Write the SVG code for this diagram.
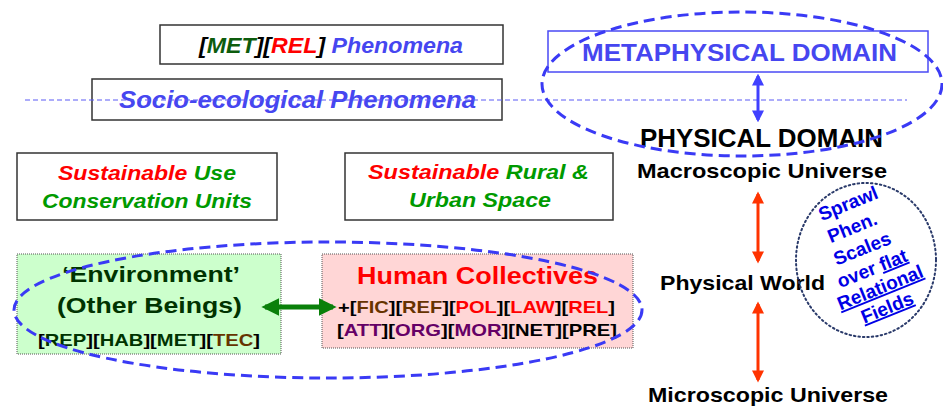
<svg xmlns="http://www.w3.org/2000/svg" width="943" height="413" viewBox="0 0 943 413">
<defs>
<style>
.t{font-family:"Liberation Sans",Arial,sans-serif;font-weight:bold}
.i{font-style:italic}
.box{fill:#fff;stroke:#333;stroke-width:1.5}
.dash{fill:none;stroke:#3a3af5;stroke-width:3;stroke-dasharray:11 6}
.blue{fill:#4646f0}
.red{fill:#ff0000}
.grn{fill:#009a00}
.dg{fill:#0d5c0d}
.br{fill:#663300}
.pu{fill:#660066}
.k{fill:#000}
.env{fill:#003300}
.sp{font-family:"Liberation Sans",Arial,sans-serif;font-weight:bold;font-size:19px;fill:#0000e6;text-anchor:middle}
</style>
<marker id="ab" viewBox="0 0 10 10" refX="8" refY="5" markerWidth="4" markerHeight="4" orient="auto-start-reverse"><path d="M0,0L10,5L0,10z" fill="#4040ff"/></marker>
<marker id="ar" viewBox="0 0 10 10" refX="8" refY="5" markerWidth="4.5" markerHeight="4" orient="auto-start-reverse"><path d="M0,0L10,5L0,10z" fill="#ff3300"/></marker>
<marker id="ag" viewBox="0 0 10 10" refX="8" refY="5" markerWidth="3.6" markerHeight="3.6" orient="auto-start-reverse"><path d="M0,0L10,5L0,10z" fill="#0a800a"/></marker>
</defs>
<rect width="943" height="413" fill="#fff"/>

<g id="met-rel">
<rect class="box" x="160" y="25" width="343" height="39"/>
<text class="t i" x="199" y="53" font-size="22" textLength="264" lengthAdjust="spacingAndGlyphs"><tspan class="k">[</tspan><tspan class="dg">MET</tspan><tspan class="k">][</tspan><tspan class="red">REL</tspan><tspan class="k">]</tspan><tspan class="blue"> Phenomena</tspan></text>
</g>

<g id="socio">
<rect class="box" x="92" y="79" width="410" height="41"/>
<text class="t i blue" x="119" y="108" font-size="23" textLength="357" lengthAdjust="spacingAndGlyphs">Socio-ecological Phenomena</text>
</g>

<g id="divider">
<line x1="25" y1="100" x2="907" y2="100" stroke="#5a5af5" stroke-width="1" stroke-dasharray="5 3"/>
</g>

<g id="conservation">
<rect class="box" x="17" y="153" width="260" height="67"/>
<text class="t i" x="58" y="180" font-size="20" textLength="178" lengthAdjust="spacingAndGlyphs"><tspan class="red">Sustainable</tspan><tspan class="grn"> Use</tspan></text>
<text class="t i grn" x="42" y="208" font-size="20" textLength="210" lengthAdjust="spacingAndGlyphs">Conservation Units</text>
</g>

<g id="rural-urban">
<rect class="box" x="345" y="153" width="268" height="67"/>
<text class="t i" x="368" y="179" font-size="20" textLength="221" lengthAdjust="spacingAndGlyphs"><tspan class="red">Sustainable</tspan><tspan class="grn"> Rural &amp;</tspan></text>
<text class="t i grn" x="409" y="207" font-size="20" textLength="142" lengthAdjust="spacingAndGlyphs">Urban Space</text>
</g>

<g id="environment">
<rect x="17" y="254" width="264" height="100" fill="#ccffcc" stroke="#555" stroke-width="1" stroke-dasharray="1 1"/>
<text class="t env" x="62" y="282" font-size="22" textLength="178" lengthAdjust="spacingAndGlyphs">‘Environment’</text>
<text class="t env" x="57" y="313" font-size="22" textLength="185" lengthAdjust="spacingAndGlyphs">(Other Beings)</text>
<text class="t" x="38" y="346" font-size="17" textLength="222" lengthAdjust="spacingAndGlyphs"><tspan class="k">[</tspan><tspan class="env">REP</tspan><tspan class="k">][</tspan><tspan class="env">HAB</tspan><tspan class="k">][</tspan><tspan class="env">MET</tspan><tspan class="k">][</tspan><tspan class="br">TEC</tspan><tspan class="k">]</tspan></text>
</g>

<g id="human">
<rect x="322" y="254" width="311" height="94" fill="#ffd6d6" stroke="#555" stroke-width="1" stroke-dasharray="1 1"/>
<text class="t red" x="357" y="284" font-size="24" textLength="241" lengthAdjust="spacingAndGlyphs">Human Collectives</text>
<text class="t" x="338" y="313" font-size="17" textLength="277" lengthAdjust="spacingAndGlyphs"><tspan class="k">+[</tspan><tspan class="br">FIC</tspan><tspan class="k">][</tspan><tspan class="br">REF</tspan><tspan class="k">][</tspan><tspan class="red">POL</tspan><tspan class="k">][</tspan><tspan class="red">LAW</tspan><tspan class="k">][</tspan><tspan class="red">REL</tspan><tspan class="k">]</tspan></text>
<text class="t" x="337" y="336" font-size="17" textLength="280" lengthAdjust="spacingAndGlyphs"><tspan class="k">[</tspan><tspan class="pu">ATT</tspan><tspan class="k">][</tspan><tspan class="pu">ORG</tspan><tspan class="k">][</tspan><tspan class="pu">MOR</tspan><tspan class="k">][NET][PRE]</tspan></text>
</g>

<g id="metaphysical">
<rect x="548" y="31" width="380" height="41" fill="none" stroke="#4a4af5" stroke-width="1.5"/>
<text class="t blue" x="582" y="61" font-size="24" textLength="315" lengthAdjust="spacingAndGlyphs">METAPHYSICAL DOMAIN</text>
</g>

<g id="physical">
<text class="t k" x="640" y="147" font-size="25" textLength="243" lengthAdjust="spacingAndGlyphs">PHYSICAL DOMAIN</text>
<text class="t k" x="637" y="178" font-size="21" textLength="250" lengthAdjust="spacingAndGlyphs">Macroscopic Universe</text>
</g>

<g id="physical-world">
<text class="t k" x="660" y="290" font-size="21" textLength="165" lengthAdjust="spacingAndGlyphs">Physical World</text>
</g>

<g id="microscopic">
<text class="t k" x="648" y="402" font-size="21" textLength="240" lengthAdjust="spacingAndGlyphs">Microscopic Universe</text>
</g>

<g id="sprawl">
<ellipse cx="866" cy="260" rx="70" ry="77" fill="none" stroke="#2a3a6a" stroke-width="2" stroke-dasharray="1.5 3" stroke-linecap="round"/>
<g transform="translate(848 203) rotate(-22)"><text class="sp" x="0" y="7">Sprawl</text></g>
<g transform="translate(852 227) rotate(-22)"><text class="sp" x="0" y="7">Phen.</text></g>
<g transform="translate(862 248) rotate(-22)"><text class="sp" x="0" y="7">Scales</text></g>
<g transform="translate(872 268) rotate(-22)"><text class="sp" x="0" y="7">over <tspan text-decoration="underline">flat</tspan></text></g>
<g transform="translate(880 287) rotate(-22)"><text class="sp" x="0" y="7" text-decoration="underline">Relational</text></g>
<g transform="translate(887 307) rotate(-22)"><text class="sp" x="0" y="7" text-decoration="underline">Fields</text></g>
</g>

<g id="connectors">
<line x1="758" y1="76" x2="758" y2="120" stroke="#4040ff" stroke-width="3" marker-start="url(#ab)" marker-end="url(#ab)"/>
<line x1="758" y1="194" x2="758" y2="261" stroke="#ff3300" stroke-width="3" marker-start="url(#ar)" marker-end="url(#ar)"/>
<line x1="758" y1="304" x2="758" y2="380" stroke="#ff3300" stroke-width="3" marker-start="url(#ar)" marker-end="url(#ar)"/>
<line x1="265" y1="307" x2="333" y2="307" stroke="#0a800a" stroke-width="5" marker-start="url(#ag)" marker-end="url(#ag)"/>
</g>

<g id="groupings">
<ellipse class="dash" cx="742" cy="84" rx="200" ry="72"/>
<ellipse class="dash" cx="328" cy="310" rx="314" ry="68"/>
</g>
</svg>
